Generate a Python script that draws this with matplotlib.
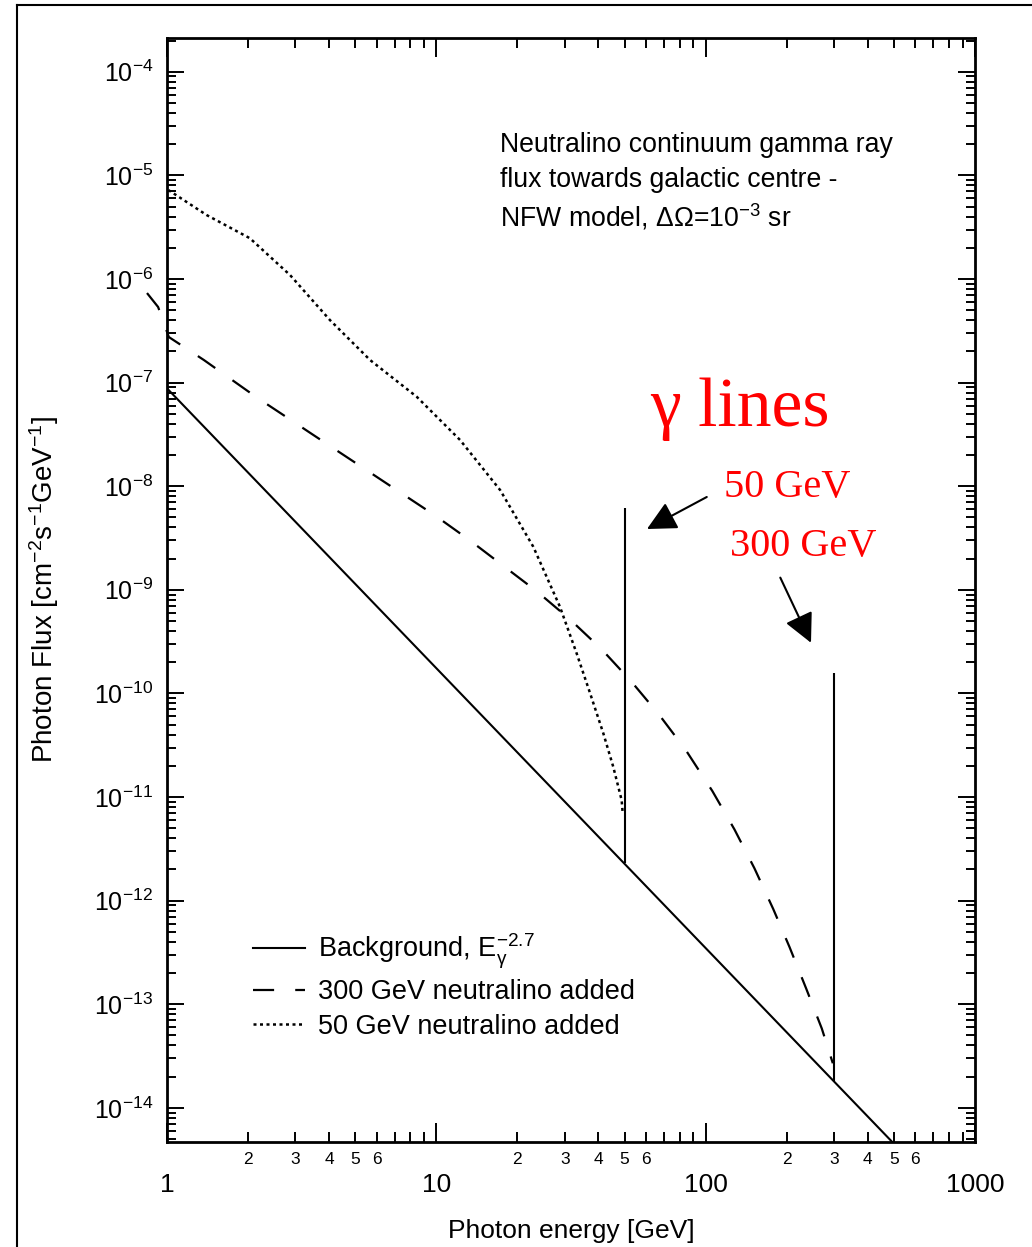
import numpy as np
import matplotlib
matplotlib.use('Agg')
import matplotlib.pyplot as plt
from matplotlib.lines import Line2D
from matplotlib.ticker import FixedLocator, FixedFormatter, LogLocator, NullFormatter

plt.rcParams['font.family'] = ['Liberation Sans', 'DejaVu Sans']
plt.rcParams['mathtext.fontset'] = 'custom'
plt.rcParams['mathtext.rm'] = 'Liberation Sans'
plt.rcParams['mathtext.it'] = 'Liberation Sans:italic'
plt.rcParams['mathtext.bf'] = 'Liberation Sans:bold'
plt.rcParams['axes.unicode_minus'] = False

# DATA
# background power law, E^-2.7 (straight line on log-log)
bg_energy = [1.0, 500.0]
bg_flux = [8.8e-8, 4.5e-15]

# 300 GeV neutralino added (dashed)
nu300_energy = [0.843, 0.927, 1.016, 1.371, 2.153, 2.911, 3.40, 9.84, 13.27, 23.71,
                31.33, 41.11, 52.72, 67.30, 84.33, 105.9, 127.9, 151.7, 178.2,
                204.6, 236.0, 269.8, 296.5]
nu300_flux = [7.31e-7, 5.36e-7, 2.75e-7, 1.65e-7, 7.19e-8, 4.28e-8, 3.27e-8, 5.26e-9,
              3.02e-9, 9.57e-10, 5.18e-10, 2.66e-10, 1.32e-10, 6.18e-11, 2.84e-11,
              1.14e-11, 4.86e-12, 2.05e-12, 8.28e-13, 3.58e-13, 1.42e-13, 5.83e-14,
              2.69e-14]

# 50 GeV neutralino added (dotted)
nu50_energy = [1.012, 1.403, 2.032, 2.864, 4.027, 5.675, 8.453, 12.25, 17.26, 22.91,
               28.77, 33.19, 37.24, 41.69, 45.39, 48.75, 49.20]
nu50_flux = [7.21e-6, 4.14e-6, 2.47e-6, 1.09e-6, 4.01e-7, 1.65e-7, 7.30e-8, 2.79e-8,
             9.16e-9, 2.60e-9, 6.85e-10, 2.43e-10, 1.0e-10, 4.11e-11, 1.95e-11,
             9.33e-12, 6.95e-12]

# gamma lines
gline_energy = [50.0, 300.0]
gline_bottom = [2.29e-12, 1.80e-14]
gline_top = [6.1e-9, 1.56e-10]

# axis ticks
x_major = [1, 10, 100, 1000]
x_major_labels = ['1', '10', '100', '1000']
x_minor = [m * 10 ** d for d in range(3) for m in range(2, 10)]
x_minor_labels = [str(m) if m <= 6 else '' for d in range(3) for m in range(2, 10)]

fig = plt.figure(figsize=(10.32, 12.47), dpi=100)
ax = fig.add_axes([0.1618, 0.0842, 0.783, 0.8857])

ax.plot(bg_energy, bg_flux, color='black', lw=1.5,
        label=r'Background, E$_{\mathrm{\gamma}}^{-2.7}$')
ax.plot(nu300_energy, nu300_flux, color='black', lw=1.6, linestyle=(0, (9.5, 9.5)),
        clip_on=False, label='300 GeV neutralino added')
ax.plot(nu50_energy, nu50_flux, color='black', lw=1.8, linestyle=(0, (1.2, 1.4)),
        label='50 GeV neutralino added')
ax.vlines(gline_energy, gline_bottom, gline_top, color='black', lw=1.5)

ax.set_xscale('log')
ax.set_yscale('log')
ax.set_xlim(1, 1000)
ax.set_ylim(10 ** -14.33, 10 ** -3.67)

ax.xaxis.set_major_locator(FixedLocator(x_major))
ax.xaxis.set_major_formatter(FixedFormatter(x_major_labels))
ax.xaxis.set_minor_locator(FixedLocator(x_minor))
ax.xaxis.set_minor_formatter(FixedFormatter(x_minor_labels))
ax.yaxis.set_major_locator(LogLocator(base=10, numticks=30))
ax.yaxis.set_minor_locator(LogLocator(base=10, subs=np.arange(2, 10), numticks=30))
ax.yaxis.set_minor_formatter(NullFormatter())

ax.tick_params(axis='x', which='major', direction='in', length=13.7, width=1.4,
               pad=22, labelsize=19, top=True)
ax.tick_params(axis='x', which='minor', direction='in', length=7.2, width=1.4,
               pad=7, labelsize=12.5, top=True)
ax.tick_params(axis='y', which='major', direction='in', length=12.2, width=1.4,
               pad=10, labelsize=18, right=True)
ax.tick_params(axis='y', which='minor', direction='in', length=6.5, width=1.4, right=True)
for s in ax.spines.values():
    s.set_linewidth(2)

ax.set_xlabel('Photon energy [GeV]', fontsize=19)
ax.xaxis.set_label_coords(0.5, -0.07)
ax.set_ylabel(r'Photon Flux [cm$^{-2}$s$^{-1}$GeV$^{-1}$]', fontsize=20)
ax.yaxis.set_label_coords(-0.131, 0.5)

ax.text(0.412, 0.896, 'Neutralino continuum gamma ray', transform=ax.transAxes,
        fontsize=19.2, va='baseline')
ax.text(0.412, 0.865, 'flux towards galactic centre -', transform=ax.transAxes,
        fontsize=19.2, va='baseline')
ax.text(0.412, 0.829, r'NFW model, ΔΩ=10$^{-3}$ sr', transform=ax.transAxes,
        fontsize=19.2, va='baseline')

ax.legend(loc='upper left', bbox_to_anchor=(0.106, 0.190), frameon=False, fontsize=19.5,
          handlelength=1.92, handletextpad=0.48, labelspacing=0.3, borderpad=0,
          borderaxespad=0)

serif = ['Liberation Serif', 'DejaVu Serif']
ax.text(0.709, 0.663, 'γ lines', transform=ax.transAxes, color='red', family=serif,
        fontsize=50, ha='center', va='center')
ax.text(0.767, 0.593, '50 GeV', transform=ax.transAxes, color='red', family=serif,
        fontsize=29, ha='center', va='center')
ax.text(0.787, 0.539, '300 GeV', transform=ax.transAxes, color='red', family=serif,
        fontsize=29, ha='center', va='center')

arrow = dict(arrowstyle='-|>,head_length=0.6,head_width=0.3', mutation_scale=30,
             lw=1.5, color='black', shrinkA=0, shrinkB=0)
ax.annotate('', xy=(0.594, 0.555), xytext=(0.668, 0.584), xycoords='axes fraction',
            arrowprops=arrow)
ax.annotate('', xy=(0.797, 0.452), xytext=(0.759, 0.511), xycoords='axes fraction',
            arrowprops=arrow)

# outer page frame
fig.add_artist(Line2D([17 / 1032, 17 / 1032], [0, 1 - 5 / 1247], color='black', lw=1.5))
fig.add_artist(Line2D([17 / 1032, 1.0], [1 - 5 / 1247, 1 - 5 / 1247], color='black', lw=1.5))

fig.savefig('out.png', dpi=100)
